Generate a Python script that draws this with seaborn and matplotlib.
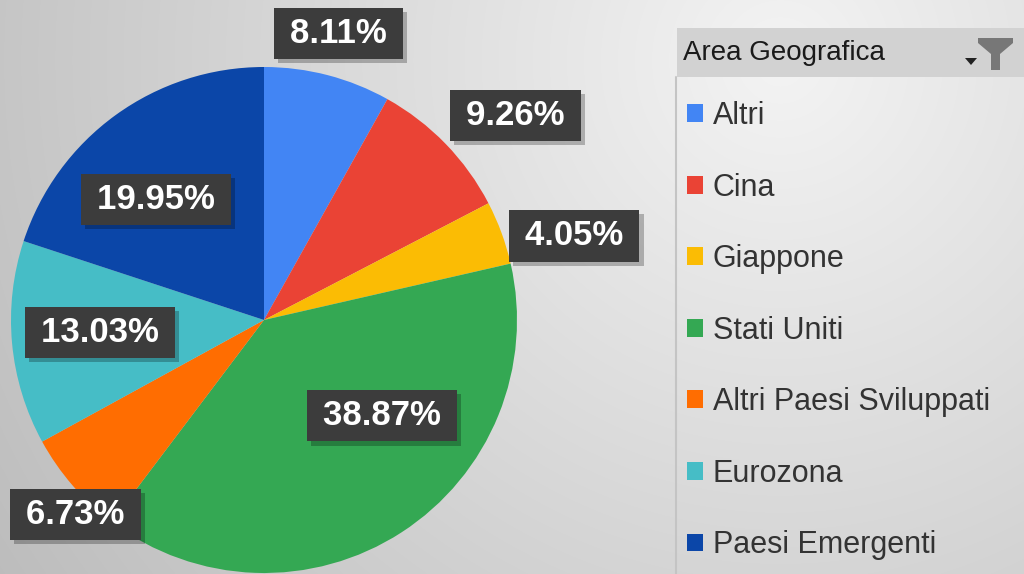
import numpy as np
import matplotlib
matplotlib.use("Agg")
import matplotlib.pyplot as plt
import matplotlib.patheffects as pe
from matplotlib.patches import Rectangle, Polygon
import seaborn as sns

# ---- data ----
categories = ["Altri", "Cina", "Giappone", "Stati Uniti",
              "Altri Paesi Sviluppati", "Eurozona", "Paesi Emergenti"]
values = [8.11, 9.26, 4.05, 38.87, 6.73, 13.03, 19.95]
colors = ["#4285F4", "#EA4335", "#FBBC04", "#34A853",
          "#FF6D01", "#46BDC6", "#0B46A8"]
legend_title = "Area Geografica"

# label placement style (radial factor, angle nudge in degrees)
label_radius = [1.17, 1.28, 1.27, 0.60, 1.07, 0.65, 0.64]
label_nudge = [0, -5, -5, 18, 5, -1, 6]

sns.set_theme(style="white")
plt.rcParams['font.family'] = ['Liberation Sans', 'DejaVu Sans']
palette = sns.color_palette(colors)

W, H = 1024, 574
fig = plt.figure(figsize=(W / 100, H / 100), dpi=100)

# background radial gradient
bg = fig.add_axes([0, 0, 1, 1])
yy, xx = np.mgrid[0:H, 0:W]
d = np.hypot(xx - 780, yy - 60) / 1000.0
v = np.clip(0.955 - 0.23 * d, 0, 1)
bg.imshow(np.dstack([v, v, v]), extent=[0, W, H, 0], aspect='auto', zorder=0)
bg.set_xlim(0, W)
bg.set_ylim(H, 0)
bg.axis('off')

# pie axes
cx, cy, R = 264, 320, 253
ax = fig.add_axes([(cx - R) / W, (H - cy - R) / H, 2 * R / W, 2 * R / H])
ax.set_facecolor('none')
wedges, _ = ax.pie(values, colors=palette, startangle=90, counterclock=False,
                   radius=1, wedgeprops=dict(linewidth=0))
ax.set_xlim(-1, 1)
ax.set_ylim(-1, 1)
ax.set_aspect('equal')
ax.axis('off')

for w, val, rf, nd in zip(wedges, values, label_radius, label_nudge):
    ang = np.deg2rad((w.theta1 + w.theta2) / 2 + nd)
    x, y = rf * np.cos(ang), rf * np.sin(ang)
    txt = f"\u2009{val:.2f}%\u2009"
    t = ax.text(x, y, txt, ha='center', va='center', fontsize=25,
                fontweight='bold', color='white',
                bbox=dict(boxstyle='square,pad=0.265', facecolor='#3c3c3c',
                          edgecolor='none'), zorder=6, clip_on=False)
    t.get_bbox_patch().set_path_effects(
        [pe.SimplePatchShadow(offset=(3, -3), shadow_rgbFace='black', alpha=0.25),
         pe.Normal()])

# legend header bar
fig.patches.append(Rectangle((677 / W, 1 - 77 / H), (W - 677) / W, 49 / H,
                             transform=fig.transFigure, facecolor='#d2d2d2',
                             edgecolor='none', zorder=2))
fig.lines.append(plt.Line2D([676 / W, 676 / W], [0, 1 - 77 / H],
                            transform=fig.transFigure, color='#c4c4c4', lw=1.5))
fig.text(683 / W, 1 - 53 / H, legend_title, fontsize=20, color='#1a1a1a',
         va='center', ha='left', zorder=3)
funnel = [(978, 38), (1013, 38), (1013, 43), (1000, 54), (1000, 70),
          (991, 70), (991, 54), (978, 43)]
fig.patches.append(Polygon([(px / W, 1 - py / H) for px, py in funnel],
                           closed=True, transform=fig.transFigure,
                           facecolor='#777777', edgecolor='none', zorder=3))
tri = [(965, 58), (977, 58), (971, 65)]
fig.patches.append(Polygon([(px / W, 1 - py / H) for px, py in tri],
                           closed=True, transform=fig.transFigure,
                           facecolor='#222222', edgecolor='none', zorder=3))

# legend entries
leg = fig.legend(wedges, categories, loc='upper left',
                 bbox_to_anchor=(687 / W, 1 - 101 / H), frameon=False,
                 fontsize=22, handlelength=0.52, handleheight=0.52,
                 handletextpad=0.33, labelspacing=1.36, borderaxespad=0,
                 borderpad=0)
for t in leg.get_texts():
    t.set_color('#333333')

fig.savefig("out.png", dpi=100)
